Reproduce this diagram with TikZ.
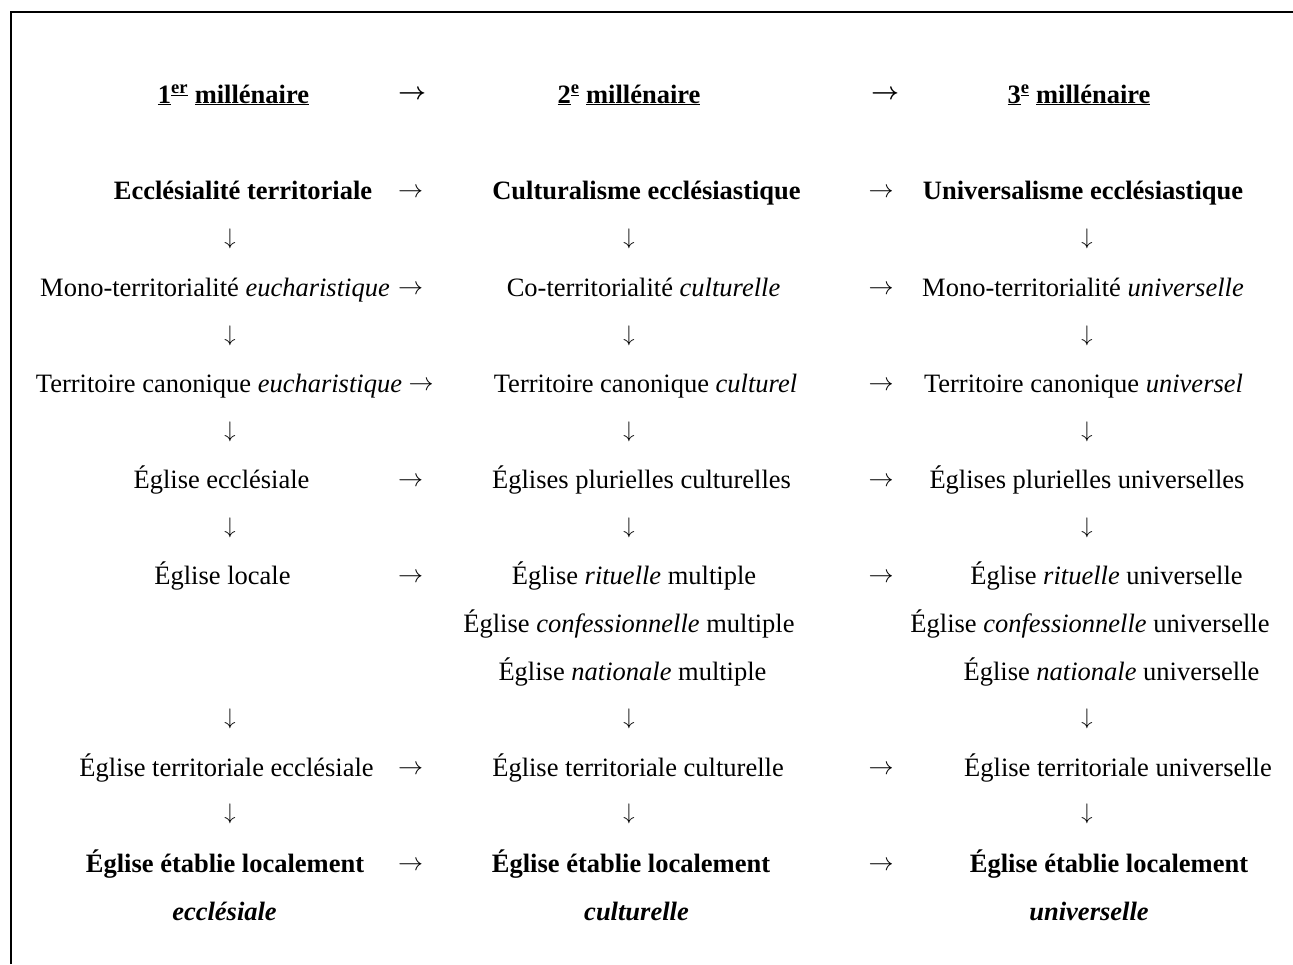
\documentclass[tikz,border=0pt]{standalone}
\usepackage{graphicx}
\usepackage{fontspec}
\setmainfont{Liberation Serif}
\newcommand{\fsz}{\fontsize{26.5}{32}\selectfont}
\newcommand{\rarw}{\resizebox{25pt}{!}{$\rightarrow$}}
\newcommand{\harw}{\resizebox{28pt}{!}{\boldmath$\rightarrow$}}
\newcommand{\darw}{\resizebox*{!}{20pt}{$\downarrow$}}
\tikzset{
  lbl/.style={inner sep=0pt, outer sep=0pt, anchor=base, font=\fsz},
  bld/.style={lbl, font=\fsz\bfseries},
  rarr/.style={inner sep=0pt, outer sep=0pt, anchor=center},
  darr/.style={inner sep=0pt, outer sep=0pt, anchor=center},
  frameline/.style={line width=2.6pt, line join=miter}
}
\begin{document}
\begin{tikzpicture}[x=1pt,y=-1pt]
\useasboundingbox (0,0) rectangle (1293,964);
\draw[frameline] (11,964) -- (11,12) -- (1293,12);

% headers
\node[bld] (h1) at (233.5,103) {\underline{1}\textsuperscript{\underline{er}} \underline{millénaire}};
\node[rarr] (ha1) at (412,95) {\harw};
\node[bld] (h2) at (629,103) {\underline{2}\textsuperscript{\underline{e}} \underline{millénaire}};
\node[rarr] (ha2) at (885,95) {\harw};
\node[bld] (h3) at (1079,103) {\underline{3}\textsuperscript{\underline{e}} \underline{millénaire}};

% column 1
\node[bld] (a1) at (243,199) {Ecclésialité territoriale};
\node[lbl] (a2) at (215,296) {Mono-territorialité \textit{eucharistique}};
\node[lbl] (a3) at (219,392) {Territoire canonique \textit{eucharistique}};
\node[lbl] (a4) at (221.5,488) {Église ecclésiale};
\node[lbl] (a5) at (222.5,584) {Église locale};
\node[lbl] (a6) at (226.5,776) {Église territoriale ecclésiale};
\node[bld] (a7) at (225,872) {Église établie localement};
\node[bld] (a8) at (224.5,920) {\textit{ecclésiale}};

% column 2
\node[bld] (b1) at (646.5,199) {Culturalisme ecclésiastique};
\node[lbl] (b2) at (643.5,296) {Co-territorialité \textit{culturelle}};
\node[lbl] (b3) at (645.5,392) {Territoire canonique \textit{culturel}};
\node[lbl] (b4) at (641.5,488) {Églises plurielles culturelles};
\node[lbl] (b5) at (634,584) {Église \textit{rituelle} multiple};
\node[lbl] (b5b) at (629,632) {Église \textit{confessionnelle} multiple};
\node[lbl] (b5c) at (632.5,680) {Église \textit{nationale} multiple};
\node[lbl] (b6) at (638,776) {Église territoriale culturelle};
\node[bld] (b7) at (631,872) {Église établie localement};
\node[bld] (b8) at (636.5,920) {\textit{culturelle}};

% column 3
\node[bld] (c1) at (1083,199) {Universalisme ecclésiastique};
\node[lbl] (c2) at (1083,296) {Mono-territorialité \textit{universelle}};
\node[lbl] (c3) at (1083.5,392) {Territoire canonique \textit{universel}};
\node[lbl] (c4) at (1087,488) {Églises plurielles universelles};
\node[lbl] (c5) at (1106.5,584) {Église \textit{rituelle} universelle};
\node[lbl] (c5b) at (1090,632) {Église \textit{confessionnelle} universelle};
\node[lbl] (c5c) at (1111.5,680) {Église \textit{nationale} universelle};
\node[lbl] (c6) at (1118,776) {Église territoriale universelle};
\node[bld] (c7) at (1109,872) {Église établie localement};
\node[bld] (c8) at (1089,920) {\textit{universelle}};

% horizontal arrows, column 1 -> 2
\node[rarr] (ab1) at (410.5,193) {\rarw};
\node[rarr] (ab2) at (410.5,290) {\rarw};
\node[rarr] (ab3) at (421,386) {\rarw};
\node[rarr] (ab4) at (410.5,482) {\rarw};
\node[rarr] (ab5) at (410.5,578) {\rarw};
\node[rarr] (ab6) at (410.5,770) {\rarw};
\node[rarr] (ab7) at (410.5,866) {\rarw};
% horizontal arrows, column 2 -> 3
\node[rarr] (bc1) at (881,193) {\rarw};
\node[rarr] (bc2) at (881,290) {\rarw};
\node[rarr] (bc3) at (881,386) {\rarw};
\node[rarr] (bc4) at (881,482) {\rarw};
\node[rarr] (bc5) at (881,578) {\rarw};
\node[rarr] (bc6) at (881,770) {\rarw};
\node[rarr] (bc7) at (881,866) {\rarw};

% vertical arrows
\foreach \cx/\cn in {230/a,629/b,1087/c}{
  \foreach \cy/\k in {239/1,336/2,432/3,528/4,719/5,814/6}{
    \node[darr] (d\cn\k) at (\cx,\cy) {\darw};
  }
}
\end{tikzpicture}
\end{document}
